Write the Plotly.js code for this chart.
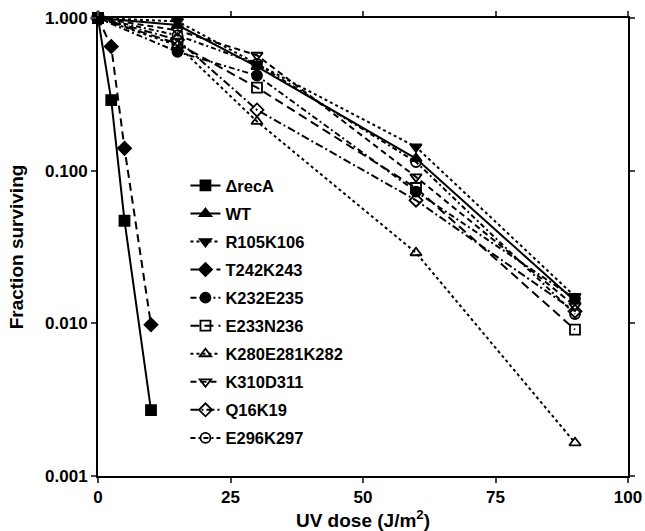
<!DOCTYPE html>
<html>
<head>
<meta charset="utf-8">
<script src="https://cdn.plot.ly/plotly-3.0.1.min.js"></script>
<style>html,body{margin:0;padding:0;background:#fff;}#chart{width:645px;height:531px;}</style>
</head>
<body>
<div id="chart"></div>
<script>
// Data
const doseRecA = [0, 2.5, 5, 10];
const recA = [1.0, 0.29, 0.047, 0.0027];
const doseT242 = [0, 2.5, 5, 10];
const t242 = [1.0, 0.65, 0.14, 0.0098];
const doseMut = [0, 15, 30, 60, 90];
const wt = [1.0, 0.90, 0.48, 0.12, 0.014];
const r105 = [1.0, 0.95, 0.50, 0.143, 0.015];
const k232 = [1.0, 0.60, 0.42, 0.073, 0.0145];
const e233 = [1.0, 0.68, 0.35, 0.077, 0.0091];
const k280 = [1.0, 0.66, 0.21, 0.029, 0.00165];
const k310 = [1.0, 0.83, 0.57, 0.091, 0.013];
const q16 = [1.0, 0.72, 0.25, 0.064, 0.012];
const e296 = [1.0, 0.77, 0.50, 0.114, 0.0115];
const yTickVals = [0.001, 0.01, 0.1, 1];
const yTickText = ['0.001', '0.010', '0.100', '1.000'];
const xTickVals = [0, 25, 50, 75, 100];

const names = ['\u0394recA','WT','R105K106','T242K243','K232E235','E233N236','K280E281K282','K310D311','Q16K19','E296K297'];
const xs = [doseRecA, doseMut, doseMut, doseT242, doseMut, doseMut, doseMut, doseMut, doseMut, doseMut];
const ys = [recA, wt, r105, t242, k232, e233, k280, k310, q16, e296];
const symbols = ['square','triangle-up','triangle-down','diamond','circle','square-open','triangle-up-open','triangle-down-open','diamond-open','circle-open'];
const dashes = ['solid','solid','dot','8px,5px','6px,3px,2px,3px','9px,5px','dot','6px,4px','8px,3px,2px,3px','5px,3px,2px,3px'];

const traces = names.map((n, i) => ({
  x: xs[i], y: ys[i], name: n, type: 'scatter', mode: 'lines+markers',
  legendgroup: 'g' + i,
  cliponaxis: false,
  line: {color: '#000', width: 2, dash: dashes[i]},
  marker: {symbol: symbols[i], size: 10, color: '#000', line: {color: '#000', width: 1.8}}
}));

const bold = {family: 'Liberation Sans, Arial, sans-serif', weight: 'bold', color: '#000'};

const layout = {
  width: 645, height: 531,
  margin: {l: 98, r: 17, t: 18, b: 55},
  paper_bgcolor: '#fff', plot_bgcolor: '#fff',
  showlegend: true,
  legend: {x: 0.165, y: 0.672, xanchor: 'left', yanchor: 'top', traceorder: 'grouped',
    tracegroupgap: 3.6, bgcolor: 'rgba(0,0,0,0)', itemwidth: 30,
    font: Object.assign({size: 16.5}, bold)},
  xaxis: {range: [0, 100], tickvals: xTickVals, ticks: 'outside', ticklen: 5, tickwidth: 2,
    showline: true, linewidth: 2, linecolor: '#000', mirror: 'ticks', showgrid: false, zeroline: false,
    tickfont: Object.assign({size: 17}, bold),
    title: {text: 'UV dose (J/m<sup>2</sup>)', font: Object.assign({size: 19}, bold), standoff: 1}},
  yaxis: {type: 'log', range: [-3, 0], tickvals: yTickVals, ticktext: yTickText, ticks: 'outside',
    ticklen: 5, tickwidth: 2, showline: true, linewidth: 2, linecolor: '#000', mirror: 'ticks',
    showgrid: false, zeroline: false,
    tickfont: Object.assign({size: 17}, bold),
    title: {text: 'Fraction surviving', font: Object.assign({size: 19}, bold), standoff: 16}}
};

Plotly.newPlot('chart', traces, layout, {displayModeBar: false, staticPlot: true});
</script>
</body>
</html>
